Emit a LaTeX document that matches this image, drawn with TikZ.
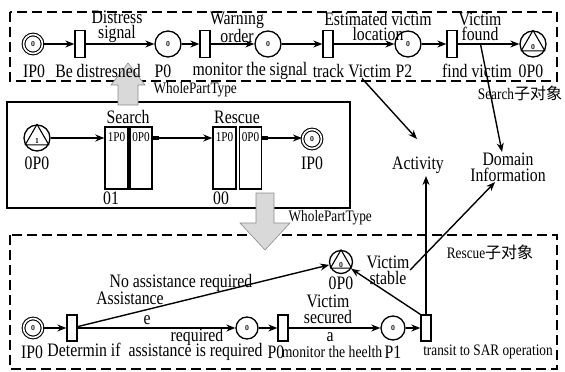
\documentclass[tikz,border=0pt]{standalone}
\usepackage{fontspec}
\setmainfont{Liberation Serif}[FakeStretch=0.83]
\newfontfamily\cjk{Noto Sans CJK SC}
\usetikzlibrary{arrows.meta,calc}
\begin{document}
\begin{tikzpicture}[x=1pt,y=-1pt,
  lab/.style={font=\fontsize{19}{15}\selectfont, inner sep=0.5pt, align=center},
  sml/.style={font=\fontsize{16}{16}\selectfont, inner sep=0.5pt},
  boxlab/.style={font=\fontsize{13.5}{13.5}\selectfont, inner sep=0pt},
  tok/.style={font=\fontsize{7}{7}\sffamily\bfseries, inner sep=0pt},
  place/.style={circle, draw, line width=1.3pt, minimum size=26pt, inner sep=0pt, font=\fontsize{7}{7}\sffamily\bfseries},
  iplace/.style={circle, draw, line width=1.1pt, double, double distance=1.6pt, minimum size=19pt, inner sep=0pt, font=\fontsize{7}{7}\sffamily\bfseries},
  trans/.style={rectangle, draw, line width=1.3pt, minimum width=10pt, minimum height=27pt, inner sep=0pt},
  subbox/.style={rectangle, draw, line width=1.4pt, minimum width=23pt, minimum height=62pt, inner sep=0pt},
  arr/.style={line width=1.4pt, -{Stealth[length=9pt,width=7pt]}},
  tri/.style={line width=1.1pt, line join=round},
  frame/.style={line width=2pt, dash pattern=on 10pt off 5pt},
  bigarrow/.style={fill=black!15, draw=black!45, line width=0.6pt}
]
\useasboundingbox (0,0) rectangle (565,372);

% frames
\draw[frame] (10,12) rectangle (557,81);
\draw[line width=1.3pt] (7,102) rectangle (350,208);
\draw[frame] (10,235) rectangle (557,369);

% big gray arrows
\draw[bigarrow] (118,105) -- (118,85) -- (111,85) -- (128,63) -- (145,85) -- (138,85) -- (138,105) -- cycle;
\draw[bigarrow] (256,193) -- (256,223) -- (240,223) -- (265,250) -- (290,223) -- (274,223) -- (274,193) -- cycle;

% ---------- top row (Search) ----------
\node[iplace] (ip1) at (33,44) {0};
\node[trans] (t1) at (80,44) {};
\node[place] (p0) at (168,44) {0};
\node[trans] (t2) at (205,44) {};
\node[place] (p1) at (268,44) {0};
\node[trans] (t3) at (328,44) {};
\node[place] (p2) at (408,44) {0};
\node[trans] (t4) at (452,44) {};
\node[place] (op1) at (533,44) {};
\draw[tri] (op1.90) -- (op1.210) -- (op1.330) -- cycle;
\node[tok] at ($(op1)+(0,3)$) {0};

\draw[arr] (ip1) -- (t1);
\draw[arr] (t1) -- (p0);
\draw[arr] (p0) -- (t2);
\draw[arr] (t2) -- (p1);
\draw[arr] (p1) -- (t3);
\draw[arr] (t3) -- (p2);
\draw[arr] (p2) -- (t4);
\draw[arr] (t4) -- coordinate[pos=0.37] (vf) (op1);

\node[lab] at (117,27) {Distress\\signal};
\node[lab] at (237,27) {Warning\\order};
\node[lab] at (378,27) {Estimated victim\\location};
\node[lab] at (480,27) {Victim\\found};

\node[lab] at (34,71) {IP0};
\node[lab] at (98,71) {Be distresned};
\node[lab] at (163,71) {P0};
\node[lab] at (250,71) {monitor the signal};
\node[lab] (trk) at (352,71) {track Victim};
\node[lab] at (404,71) {P2};
\node[lab] at (477,71) {find victim};
\node[lab] at (531,71) {0P0};
\node[sml] at (520,93) {Search{\cjk 子对象}};

% ---------- middle box ----------
\node[place] (om) at (37,138) {};
\draw[tri] (om.90) -- (om.210) -- (om.330) -- cycle;
\node[tok] at ($(om)+(0,3)$) {1};
\node[lab] at (37,163) {0P0};

\node[subbox] (sL) at (116.5,158) {};
\node[subbox, minimum width=22pt] (sR) at (141,158) {};
\node[subbox] (rL) at (224.5,158) {};
\node[subbox, minimum width=22pt] (rR) at (250.5,158) {};
\node[boxlab] at (116.5,137) {1P0};
\node[boxlab] at (141,137) {0P0};
\node[boxlab] at (224.5,137) {1P0};
\node[boxlab] at (250.5,137) {0P0};
\node[lab] at (128,117) {Search};
\node[lab] at (237,117) {Rescue};
\node[lab] at (111,198) {01};
\node[lab] at (221,198) {00};

\node[iplace] (im) at (312,139) {0};
\node[lab] at (312,163) {IP0};

\draw[arr] (om.east) -- (om.east -| sL.west);
\draw[line width=4pt] (sR.east |- om) -- ++(6,0);
\draw[arr] (sR.east |- om) -- (om -| rL.west);
\draw[line width=4pt] (rR.east |- om) -- ++(6,0);
\draw[arr] (rR.east |- om) -- (om -| im.west);

\node[sml, anchor=west] at (153,90) {WholePartType};
\node[sml, anchor=west] at (288,218) {WholePartType};

% ---------- right side ----------
\node[lab] (act) at (418,165) {Activity};
\node[lab, font=\fontsize{19}{16}\selectfont] (dom) at (508,167) {Domain\\Information};
\coordinate (actTop) at (417,139);
\coordinate (actBot) at (424,176);
\draw[arr] ([xshift=10pt]trk.south) -- (actTop);
\draw[arr] (vf) -- ([xshift=-6pt]dom.north);

% ---------- bottom row (Rescue) ----------
\node[iplace] (ip3) at (33,328) {0};
\node[trans, minimum height=26pt] (t5) at (72,328) {};
\node[place, minimum size=22pt] (p3) at (247,328) {0};
\node[trans, minimum height=26pt] (t6) at (283,328) {};
\node[place, minimum size=24pt] (p4) at (393,328) {0};
\node[trans, minimum height=26pt] (t7) at (426,328) {};
\node[place, minimum size=23pt] (op3) at (341,262) {};
\draw[tri] (op3.90) -- (op3.210) -- (op3.330) -- cycle;
\node[tok] at ($(op3)+(0,3)$) {0};

\draw[arr] (ip3) -- (t5);
\draw[arr] (t5) -- (p3);
\draw[arr] (t5) -- (op3);
\draw[arr] (p3) -- (t6);
\draw[arr] (t6) -- (p4);
\draw[arr] (p4) -- (t7);
\draw[arr] (t7.north west) -- (op3);
\draw[arr] (t7.north) -- (t7.north |- actBot);

\node[lab] at (181,283) {No assistance required};
\node[lab] at (130,298) {Assistance};
\node[lab] at (147,320) {e};
\node[lab] at (197,337) {required};
\node[lab, font=\fontsize{19}{16}\selectfont] at (328,309) {Victim\\secured};
\node[lab] at (330,337) {a};
\node[lab, font=\fontsize{19}{16}\selectfont] (vs) at (388,270) {Victim\\stable};
\node[lab] at (341,283) {0P0};
\draw[arr] (vs.east) -- ([xshift=-13pt]dom.south);

\node[lab] at (32,352) {IP0};
\node[lab] at (155,352) {Determin if\ \ assistance is required};
\node[lab] at (276,352) {P0};
\node[lab, font=\fontsize{16.5}{16.5}\selectfont] at (332,352) {monitor the heelth};
\node[lab] at (393,352) {P1};
\node[sml] at (488,352) {transit to SAR operation};
\node[sml] at (490,252) {Rescue{\cjk 子对象}};
\end{tikzpicture}
\end{document}
